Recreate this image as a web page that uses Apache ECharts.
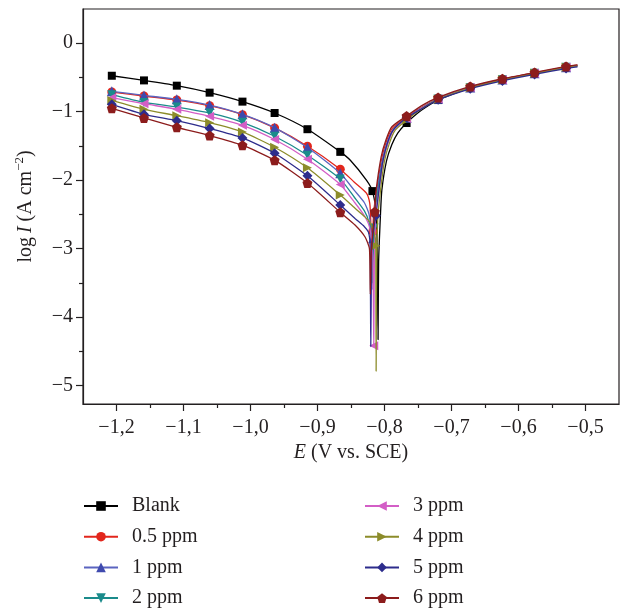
<!DOCTYPE html>
<html>
<head>
<meta charset="utf-8">
<script src="https://cdn.jsdelivr.net/npm/echarts@6/dist/echarts.min.js"></script>
<style>
html,body{margin:0;padding:0;background:#fff;}
#chart{width:620px;height:609px;}
</style>
</head>
<body>
<div id="chart"></div>
<script>
// Shared marker potentials (V vs. SCE): 8 cathodic + 6 anodic markers
const markE = [-1.207, -1.159, -1.110, -1.061, -1.012, -0.964, -0.915, -0.866,
               -0.767, -0.720, -0.672, -0.624, -0.576, -0.529];

const seriesNames = ['Blank', '0.5 ppm', '1 ppm', '2 ppm', '3 ppm', '4 ppm', '5 ppm', '6 ppm'];

// logI at the marker potentials
const blankMark = [-0.475, -0.543, -0.620, -0.722, -0.853, -1.019, -1.256, -1.587, -1.165, -0.830, -0.655, -0.535, -0.440, -0.355];
const p05Mark   = [-0.713, -0.771, -0.830, -0.912, -1.043, -1.237, -1.504, -1.840, -1.080, -0.805, -0.640, -0.525, -0.432, -0.345];
const p1Mark    = [-0.703, -0.762, -0.820, -0.903, -1.038, -1.233, -1.524, -1.900, -1.090, -0.810, -0.645, -0.530, -0.437, -0.350];
const p2Mark    = [-0.752, -0.864, -0.932, -1.019, -1.155, -1.359, -1.636, -1.985, -1.100, -0.815, -0.650, -0.535, -0.440, -0.352];
const p3Mark    = [-0.796, -0.883, -0.966, -1.068, -1.199, -1.407, -1.694, -2.063, -1.100, -0.815, -0.648, -0.532, -0.438, -0.350];
const p4Mark    = [-0.835, -0.966, -1.058, -1.160, -1.296, -1.519, -1.820, -2.218, -1.120, -0.820, -0.652, -0.535, -0.440, -0.352];
const p5Mark    = [-0.893, -1.038, -1.131, -1.247, -1.383, -1.607, -1.937, -2.364, -1.090, -0.825, -0.665, -0.550, -0.455, -0.370];
const p6Mark    = [-0.951, -1.092, -1.228, -1.349, -1.490, -1.708, -2.043, -2.470, -1.063, -0.791, -0.631, -0.519, -0.427, -0.339];

// marker near the corrosion potential [E, logI]
const blankM9 = [-0.818, -2.16];
const p05M9   = [-0.8175, -2.75];
const p1M9    = [-0.817, -2.85];
const p2M9    = [-0.8155, -2.70];
const p3M9    = [-0.816, -4.42];
const p4M9    = [-0.813, -2.96];
const p5M9    = [-0.8128, -2.52];
const p6M9    = [-0.8145, -2.46];

// other curve points [E, logI] (no marker)
const blankLine = [[-0.851, -1.71], [-0.827, -2.00], [-0.813, -2.45], [-0.811, -2.90], [-0.8096, -4.33], [-0.8088, -3.20], [-0.806, -2.50], [-0.804, -2.15], [-0.797, -1.72], [-0.789, -1.48], [-0.780, -1.31], [-0.745, -0.98], [-0.512, -0.33]];
const p05Line = [[-0.845, -2.03], [-0.827, -2.19], [-0.822, -2.34], [-0.8205, -2.60], [-0.8195, -3.10], [-0.816, -2.45], [-0.811, -2.10], [-0.804, -1.68], [-0.797, -1.43], [-0.788, -1.24], [-0.745, -0.94], [-0.512, -0.32]];
const p1Line = [[-0.845, -2.15], [-0.830, -2.33], [-0.823, -2.50], [-0.8195, -2.90], [-0.8185, -3.60], [-0.8175, -3.10], [-0.815, -2.45], [-0.810, -2.10], [-0.803, -1.70], [-0.796, -1.45], [-0.787, -1.26], [-0.745, -0.95], [-0.512, -0.325]];
const p2Line = [[-0.845, -2.25], [-0.830, -2.45], [-0.823, -2.62], [-0.8185, -2.95], [-0.8175, -3.50], [-0.8165, -3.00], [-0.814, -2.45], [-0.809, -2.10], [-0.802, -1.70], [-0.795, -1.45], [-0.786, -1.25], [-0.745, -0.95], [-0.512, -0.328]];
const p3Line = [[-0.845, -2.32], [-0.830, -2.52], [-0.822, -2.70], [-0.8175, -3.10], [-0.8152, -3.30], [-0.813, -2.50], [-0.808, -2.12], [-0.802, -1.72], [-0.795, -1.46], [-0.786, -1.26], [-0.745, -0.95], [-0.512, -0.326]];
const p4Line = [[-0.844, -2.41], [-0.830, -2.53], [-0.822, -2.61], [-0.816, -2.75], [-0.8135, -2.87], [-0.8125, -4.79], [-0.8118, -3.40], [-0.810, -2.55], [-0.806, -2.15], [-0.800, -1.72], [-0.793, -1.47], [-0.784, -1.27], [-0.745, -0.96], [-0.512, -0.328]];
const p5Line = [[-0.844, -2.56], [-0.830, -2.68], [-0.824, -2.76], [-0.8215, -2.95], [-0.8205, -4.43], [-0.8195, -3.30], [-0.819, -3.00], [-0.816, -2.70], [-0.809, -2.20], [-0.803, -1.75], [-0.796, -1.47], [-0.787, -1.27], [-0.745, -0.96], [-0.512, -0.345]];
const p6Line = [[-0.844, -2.655], [-0.829, -2.83], [-0.8225, -3.00], [-0.8212, -3.67], [-0.8195, -3.00], [-0.817, -2.70], [-0.8125, -2.15], [-0.805, -1.66], [-0.798, -1.417], [-0.789, -1.22], [-0.745, -0.915], [-0.512, -0.315]];

// axis ticks
const xMajor = [-1.2, -1.1, -1.0, -0.9, -0.8, -0.7, -0.6, -0.5];
const xMinor = [-1.15, -1.05, -0.95, -0.85, -0.75, -0.65, -0.55];
const yMajor = [0, -1, -2, -3, -4, -5];
const yMinor = [-0.5, -1.5, -2.5, -3.5, -4.5];

const colors = ['#000000', '#e2261c', '#3f4aae', '#1b8b8b', '#d35ec6', '#8c8c2a', '#2d2c8c', '#8c1c1c'];
const lineColors = ['#000000', '#e2261c', '#5b64c0', '#1b8b8b', '#d35ec6', '#8c8c2a', '#2d2c8c', '#8c1c1c'];
const symbols = ['rect', 'circle', 'triangle',
  'path://M0,0 L10,0 L5,9 Z',
  'path://M0,5 L9,0 L9,10 Z',
  'path://M0,0 L9,5 L0,10 Z',
  'diamond',
  'path://M5,0 L10,3.6 L8.1,9.5 L1.9,9.5 L0,3.6 Z'];
const symbolSizes = [8, 9, 10, 9, 9, 9, 10, 10];

const marks = [blankMark, p05Mark, p1Mark, p2Mark, p3Mark, p4Mark, p5Mark, p6Mark];
const m9s = [blankM9, p05M9, p1M9, p2M9, p3M9, p4M9, p5M9, p6M9];
const lines = [blankLine, p05Line, p1Line, p2Line, p3Line, p4Line, p5Line, p6Line];

function build(mark, m9, line) {
  const pts = [];
  markE.forEach((e, i) => pts.push({ v: [e, mark[i]], m: true }));
  pts.push({ v: m9, m: true });
  line.forEach(p => pts.push({ v: p, m: false }));
  pts.sort((a, b) => a.v[0] - b.v[0]);
  return pts.map(p => p.m ? { value: p.v } : { value: p.v, symbol: 'none' });
}

const FONT = "'Liberation Serif', 'DejaVu Serif', serif";
const TXT = '#231f20';

function fmtX(v) {
  return (v < 0 ? '\u2212' : '') + Math.abs(v).toFixed(1).replace('.', ',');
}
function fmtY(v) {
  return v === 0 ? '0' : (v < 0 ? '\u2212' : '') + Math.abs(v);
}

const series = seriesNames.map((name, i) => ({
  name: name,
  type: 'line',
  data: build(marks[i], m9s[i], lines[i]),
  smooth: 0.2,
  showAllSymbol: true,
  symbol: symbols[i],
  symbolSize: symbolSizes[i],
  lineStyle: { color: lineColors[i], width: 1.3 },
  itemStyle: { color: colors[i] },
  emphasis: { disabled: true },
  z: 2 + i
}));

const legendCommon = {
  orient: 'vertical',
  padding: 0,
  itemWidth: 34,
  itemHeight: 12,
  itemGap: 10.7,
  textStyle: { fontFamily: FONT, fontSize: 20, color: TXT, lineHeight: 20, padding: [0, 0, 0, 9] },
  selectedMode: false
};

const option = {
  animation: false,
  backgroundColor: '#ffffff',
  grid: { left: 83, right: 1, top: 9, bottom: 205, show: true, borderColor: TXT, borderWidth: 1.2, backgroundColor: 'transparent' },
  legend: [
    Object.assign({}, legendCommon, { data: seriesNames.slice(0, 4), left: 83, top: 496 }),
    Object.assign({}, legendCommon, { data: seriesNames.slice(4), left: 364, top: 496 })
  ],
  xAxis: [{
    type: 'value', min: -1.25, max: -0.45, position: 'bottom',
    axisLine: { show: true, onZero: false, lineStyle: { color: TXT, width: 1.2 } },
    axisTick: { show: true, length: 7, customValues: xMajor, lineStyle: { color: TXT, width: 1.2 } },
    axisLabel: { customValues: xMajor, formatter: fmtX, fontFamily: FONT, fontSize: 20, color: TXT, margin: 14 },
    splitLine: { show: false },
    name: '{i|E} (V vs. SCE)', nameLocation: 'middle', nameGap: 36,
    nameTextStyle: { fontFamily: FONT, fontSize: 20, color: TXT, rich: { i: { fontFamily: FONT, fontSize: 20, fontStyle: 'italic', color: TXT } } }
  }, {
    type: 'value', min: -1.25, max: -0.45, position: 'bottom',
    axisLine: { show: false, onZero: false },
    axisTick: { show: true, length: 4, customValues: xMinor, lineStyle: { color: TXT, width: 1.2 } },
    axisLabel: { show: false },
    splitLine: { show: false }
  }],
  yAxis: [{
    type: 'value', min: -5.27, max: 0.5, position: 'left',
    axisLine: { show: true, onZero: false, lineStyle: { color: TXT, width: 1.2 } },
    axisTick: { show: true, length: 7, customValues: yMajor, lineStyle: { color: TXT, width: 1.2 } },
    axisLabel: { customValues: yMajor, formatter: fmtY, fontFamily: FONT, fontSize: 20, color: TXT, margin: 10 },
    splitLine: { show: false },
    name: '{n|log\u2009}{i|I}{n| (A cm}{s|\u22122}{n|)}', nameLocation: 'middle', nameGap: 44, nameRotate: 90,
    nameTextStyle: {
      fontFamily: FONT, fontSize: 20, color: TXT,
      rich: {
        n: { fontFamily: FONT, fontSize: 20, color: TXT, lineHeight: 26 },
        i: { fontFamily: FONT, fontSize: 20, fontStyle: 'italic', color: TXT, lineHeight: 26 },
        s: { fontFamily: FONT, fontSize: 13, color: TXT, lineHeight: 13, verticalAlign: 'top' }
      }
    }
  }, {
    type: 'value', min: -5.27, max: 0.5, position: 'left',
    axisLine: { show: false, onZero: false },
    axisTick: { show: true, length: 4, customValues: yMinor, lineStyle: { color: TXT, width: 1.2 } },
    axisLabel: { show: false },
    splitLine: { show: false }
  }],
  series: series
};

const chart = echarts.init(document.getElementById('chart'), null, { renderer: 'canvas' });
chart.setOption(option);
</script>
</body>
</html>
